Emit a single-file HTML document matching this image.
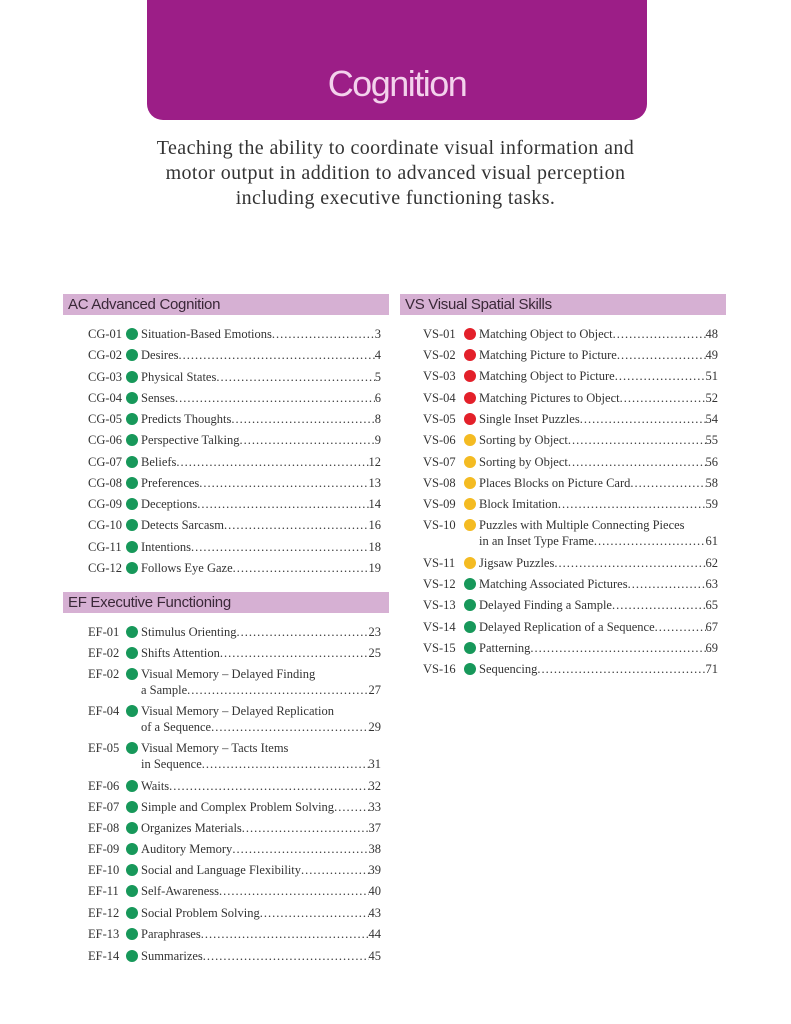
<!DOCTYPE html>
<html><head><meta charset="utf-8"><style>
*{margin:0;padding:0;box-sizing:border-box}
body{width:791px;height:1024px;background:#fff;position:relative;overflow:hidden;font-family:"Liberation Serif",serif;color:#333}
.banner{position:absolute;left:147px;top:0;width:500px;height:120px;background:#9c1e87;border-radius:0 0 16px 16px}
.banner span{position:absolute;left:0;right:0;top:63px;text-align:center;font-family:"Liberation Sans",sans-serif;font-size:36px;color:#f3d2ec;letter-spacing:-1.5px;font-weight:300}
.intro{position:absolute;left:60px;width:671px;top:136px;text-align:center;font-size:20px;letter-spacing:0.4px;line-height:25px;color:#333}
.bar{position:absolute;height:21px;background:#d6b0d3;font-family:"Liberation Sans",sans-serif;font-size:15px;line-height:21px;padding-left:5px;color:#3a2838;letter-spacing:-0.3px}
.r{position:absolute;height:18px;font-size:12.5px;line-height:18px;white-space:nowrap}
.c{position:absolute;left:0;top:0}
.d{position:absolute;top:3px;width:12px;height:12px;border-radius:50%}
.g{background:#17985a}.rd{background:#e3202a}.y{background:#f4bb22}
.t{position:absolute;top:0;overflow:hidden;display:flex}
.t .x{flex:none}
.t .l{flex:1;overflow:hidden;white-space:nowrap;letter-spacing:1px}
.t .l:after{content:"................................................................................................................................................"}
.t .p{flex:none}
</style></head><body>
<div class="banner"><span>Cognition</span></div>
<div class="intro">Teaching the ability to coordinate visual information and<br>motor output in addition to advanced visual perception<br>including executive functioning tasks.</div>

<div class="bar" style="left:63px;top:294px;width:326px">AC Advanced Cognition</div>
<div class="bar" style="left:63px;top:592px;width:326px">EF Executive Functioning</div>
<div class="bar" style="left:400px;top:294px;width:326px">VS Visual Spatial Skills</div>

<div id="L"></div>
<script>
function row(x,y,code,col,txt,pg,line2){
  var h='<div class="r" style="left:'+x+'px;top:'+(y-9)+'px;width:300px">';
  h+='<span class="c">'+code+'</span><span class="d '+col+'" style="left:'+(x===88?38:41)+'px"></span>';
  var ts=(x===88?53:56), w=(x===88?293:295)-ts;
  if(line2){
    h+='<div class="t" style="left:'+ts+'px;width:'+w+'px"><span class="x">'+txt+'</span></div>';
    h+='<div class="t" style="left:'+ts+'px;top:16px;width:'+w+'px"><span class="x">'+line2+'</span><span class="l"></span><span class="p">'+pg+'</span></div>';
  } else {
    h+='<div class="t" style="left:'+ts+'px;width:'+w+'px"><span class="x">'+txt+'</span><span class="l"></span><span class="p">'+pg+'</span></div>';
  }
  return h+'</div>';
}
var o='';
var cg=[["Situation-Based Emotions",3],["Desires",4],["Physical States",5],["Senses",6],["Predicts Thoughts",8],["Perspective Talking",9],["Beliefs",12],["Preferences",13],["Deceptions",14],["Detects Sarcasm",16],["Intentions",18],["Follows Eye Gaze",19]];
cg.forEach(function(a,i){o+=row(88,334+i*21.27,"CG-"+(i<9?"0":"")+(i+1),"g",a[0],a[1]);});
var ef=[[632,"EF-01","Stimulus Orienting",23],[653,"EF-02","Shifts Attention",25],[674,"EF-02","Visual Memory – Delayed Finding",27,"a Sample"],[711,"EF-04","Visual Memory – Delayed Replication",29,"of a Sequence"],[748,"EF-05","Visual Memory – Tacts Items",31,"in Sequence"],[786,"EF-06","Waits",32],[807,"EF-07","Simple and Complex Problem Solving",33],[828,"EF-08","Organizes Materials",37],[849,"EF-09","Auditory Memory",38],[870,"EF-10","Social and Language Flexibility",39],[891,"EF-11","Self-Awareness",40],[913,"EF-12","Social Problem Solving",43],[934,"EF-13","Paraphrases",44],[956,"EF-14","Summarizes",45]];
ef.forEach(function(a){o+=row(88,a[0],a[1],"g",a[2],a[3],a[4]);});
var vs=[[334,"rd","Matching Object to Object",48],[355,"rd","Matching Picture to Picture",49],[376,"rd","Matching Object to Picture",51],[398,"rd","Matching Pictures to Object",52],[419,"rd","Single Inset Puzzles",54],[440,"y","Sorting by Object",55],[462,"y","Sorting by Object",56],[483,"y","Places Blocks on Picture Card",58],[504,"y","Block Imitation",59],[525,"y","Puzzles with Multiple Connecting Pieces",61,"in an Inset Type Frame"],[563,"y","Jigsaw Puzzles",62],[584,"g","Matching Associated Pictures",63],[605,"g","Delayed Finding a Sample",65],[627,"g","Delayed Replication of a Sequence",67],[648,"g","Patterning",69],[669,"g","Sequencing",71]];
vs.forEach(function(a,i){o+=row(423,a[0],"VS-"+(i<9?"0":"")+(i+1),a[1],a[2],a[3],a[4]);});
document.getElementById("L").innerHTML=o;
</script>
</body></html>
